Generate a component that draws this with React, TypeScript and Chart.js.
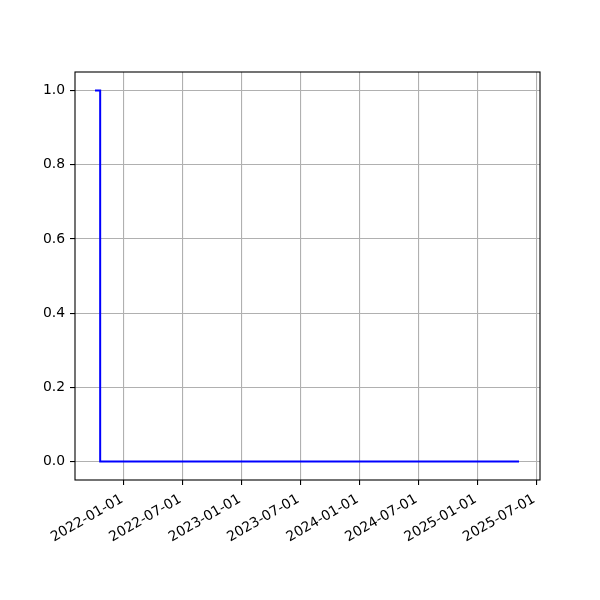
import React, { useEffect, useRef } from "react";
import { Chart, registerables } from "chart.js";

Chart.register(...registerables);

const dates = ["2021-10-03", "2021-10-19", "2025-05-09"];
const values = [1, 0, 0];
const xTickDates = [
  "2022-01-01",
  "2022-07-01",
  "2023-01-01",
  "2023-07-01",
  "2024-01-01",
  "2024-07-01",
  "2025-01-01",
  "2025-07-01",
];
const yTicks = [0, 0.2, 0.4, 0.6, 0.8, 1.0];
const xMinDate = "2021-08-02";
const xMaxDate = "2025-07-13";

const toMs = (d: string) => {
  const [y, m, day] = d.split("-").map(Number);
  return Date.UTC(y, m - 1, day);
};
const fmt = (ms: number) => {
  const d = new Date(ms);
  const mm = String(d.getUTCMonth() + 1).padStart(2, "0");
  const dd = String(d.getUTCDate()).padStart(2, "0");
  return `${d.getUTCFullYear()}-${mm}-${dd}`;
};

const FONT = { family: "'DejaVu Sans', sans-serif", size: 13.9 };

export default function App() {
  const ref = useRef<HTMLCanvasElement>(null);
  useEffect(() => {
    const boxPlugin = {
      id: "box",
      afterDraw(chart: any) {
        const { ctx, chartArea: a } = chart;
        ctx.save();
        ctx.strokeStyle = "#000";
        ctx.lineWidth = 1.1;
        ctx.strokeRect(a.left, a.top, a.right - a.left, a.bottom - a.top);
        ctx.restore();
      },
    };
    const chart = new Chart(ref.current!, {
      type: "line",
      data: {
        datasets: [
          {
            data: dates.map((d, i) => ({ x: toMs(d), y: values[i] })),
            borderColor: "#0000ff",
            borderWidth: 2,
            pointRadius: 0,
            stepped: "before",
            fill: false,
          },
        ],
      },
      options: {
        animation: false,
        responsive: false,
        devicePixelRatio: 1,
        layout: { padding: { top: 72, right: 60, left: 0, bottom: 0 } },
        plugins: { legend: { display: false }, tooltip: { enabled: false } },
        scales: {
          x: {
            type: "linear",
            min: toMs(xMinDate),
            max: toMs(xMaxDate),
            afterBuildTicks: (s: any) => {
              s.ticks = xTickDates.map((d) => ({ value: toMs(d) }));
            },
            afterFit: (s: any) => {
              s.height = 120;
            },
            grid: {
              color: "#b0b0b0",
              lineWidth: 1.1,
              tickColor: "#000",
              tickLength: 5,
            },
            border: { display: false },
            ticks: {
              autoSkip: false,
              minRotation: 30,
              maxRotation: 30,
              padding: 6,
              labelOffset: -2,
              color: "#000",
              font: FONT,
              callback: (v: any) => fmt(Number(v)),
            },
          },
          y: {
            type: "linear",
            min: -0.05,
            max: 1.05,
            afterBuildTicks: (s: any) => {
              s.ticks = yTicks.map((v) => ({ value: v }));
            },
            afterFit: (s: any) => {
              s.width = 75;
            },
            grid: {
              color: "#b0b0b0",
              lineWidth: 1.1,
              tickColor: "#000",
              tickLength: 5,
            },
            border: { display: false },
            ticks: {
              padding: 5,
              color: "#000",
              font: FONT,
              callback: (v: any) => Number(v).toFixed(1),
            },
          },
        },
      },
      plugins: [boxPlugin],
    });
    return () => chart.destroy();
  }, []);
  return (
    <div style={{ position: "absolute", left: 0, top: 0, width: 600, height: 600, background: "#fff" }}>
      <canvas ref={ref} width={600} height={600} />
    </div>
  );
}
